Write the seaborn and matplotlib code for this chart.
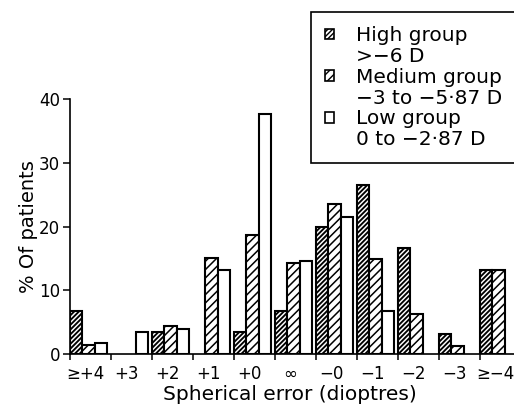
import numpy as np
import pandas as pd
import matplotlib
matplotlib.use("Agg")
import matplotlib.pyplot as plt
from matplotlib.patches import Patch
from matplotlib.lines import Line2D
import seaborn as sns

# ---- data ----
categories = ["≥+4", "+3", "+2", "+1", "+0", "∞", "−0", "−1", "−2", "−3", "≥−4"]
groups = ["High", "Medium", "Low"]
high = [6.8, np.nan, 3.4, np.nan, 3.4, 6.8, 19.9, 26.5, 16.6, 3.2, 13.2]
medium = [1.4, np.nan, 4.4, 15.0, 18.7, 14.3, 23.5, 14.9, 6.3, 1.3, 13.2]
low = [1.7, 3.4, 4.0, 13.2, 37.6, 14.6, 21.5, 6.8, np.nan, np.nan, np.nan]
legend_labels = [("High group", ">−6 D"),
                 ("Medium group", "−3 to −5·87 D"),
                 ("Low group", "0 to −2·87 D")]
yticks = [0, 10, 20, 30, 40]

df = pd.DataFrame({
    "cat": categories * 3,
    "group": [g for g in groups for _ in categories],
    "value": high + medium + low,
}).dropna()

sns.set_theme(style="ticks")
plt.rcParams["font.family"] = ["DejaVu Sans"]
plt.rcParams["text.color"] = "black"
plt.rcParams["hatch.linewidth"] = 1.0
plt.rcParams["hatch.color"] = "black"

fig = plt.figure(figsize=(5.14, 4.12), dpi=100)
ax = fig.add_axes([70 / 514, 58 / 412, 451 / 514, 255 / 412])

sns.barplot(data=df, x="cat", y="value", hue="group", order=categories,
            hue_order=groups, palette=["white"] * 3, edgecolor="black",
            linewidth=1.5, width=0.9, errorbar=None, legend=False, ax=ax,
            saturation=1)

hatches = ["///////", "////", ""]
hatch_lw = [1.35, 1.1, 1.0]
for cont, h, hl in zip(ax.containers, hatches, hatch_lw):
    for bar in cont:
        bar.set_hatch(h)
        if hasattr(bar, "set_hatch_linewidth"):
            bar.set_hatch_linewidth(hl)

ax.set_xlim(-0.45, 10.55)
ax.set_ylim(0, 40)
ax.set_yticks(yticks)
ax.set_xticks(np.arange(len(categories)) - 0.08)
ax.set_xticklabels(categories)
ax.set_xticks(np.arange(-1, len(categories)) + 0.55, minor=True)
ax.tick_params(axis="x", which="major", length=0, pad=8, labelsize=12, colors="black")
ax.tick_params(axis="x", which="minor", length=4, width=1.1, direction="out", color="black")
ax.tick_params(axis="y", length=5, width=1.1, pad=2, labelsize=12, colors="black")
for s in ["top", "right"]:
    ax.spines[s].set_visible(False)
for s in ["left", "bottom"]:
    ax.spines[s].set_linewidth(1.2)
    ax.spines[s].set_color("black")

ax.set_xlabel("Spherical error (dioptres)", fontsize=14.5, color="black")
ax.xaxis.set_label_coords((290 - 70) / 451, (354 - 385) / 255)
ax.set_ylabel("% Of patients", fontsize=14, labelpad=1, color="black")

handles, labels = [], []
for h, hl, (l1, l2) in zip(hatches, hatch_lw, legend_labels):
    p = Patch(facecolor="white", edgecolor="black", hatch=h, linewidth=1.2)
    if hasattr(p, "set_hatch_linewidth"):
        p.set_hatch_linewidth(hl)
    handles.append(p)
    labels.append(l1)
    handles.append(Line2D([], [], linestyle="none"))
    labels.append(l2)

leg = fig.legend(handles, labels, loc="upper left",
                 bbox_to_anchor=(311 / 514, 1 - 12 / 412), frameon=True,
                 fancybox=False, edgecolor="black", framealpha=1, fontsize=14.5,
                 handlelength=0.45, handleheight=0.45, handletextpad=1.1,
                 labelspacing=0.09, borderpad=0.7, borderaxespad=0,
                 labelcolor="black")
leg.get_frame().set_linewidth(1.2)

fig.savefig("out.png", dpi=100)
